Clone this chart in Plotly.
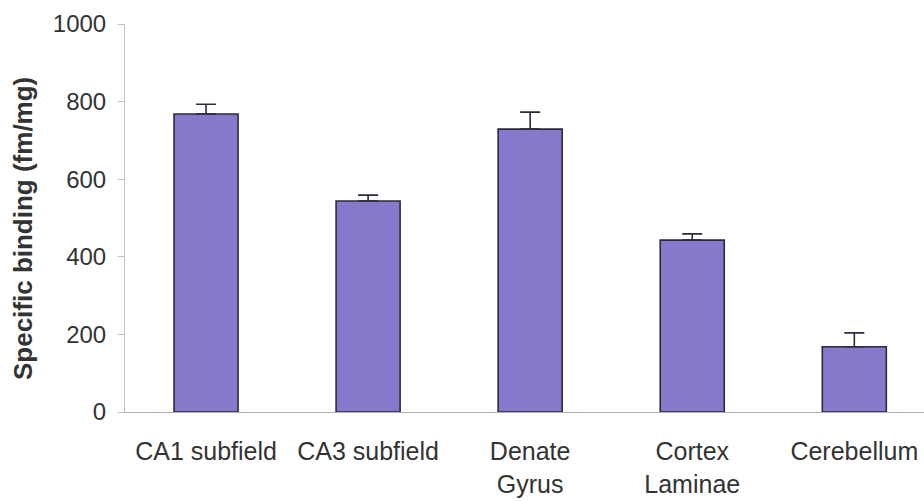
import plotly.graph_objects as go

categories = ["CA1 subfield", "CA3 subfield", "Denate<br>Gyrus", "Cortex<br>Laminae", "Cerebellum"]
values = [768, 544, 729, 443, 168]
errors = [25, 15, 44, 16, 36]
y_ticks = [0, 200, 400, 600, 800, 1000]
y_title = "Specific binding (fm/mg)"

fig = go.Figure()
fig.add_trace(go.Bar(
    x=list(range(len(categories))),
    y=values,
    width=0.395,
    marker=dict(color="#8479CB", line=dict(color="#2b2b3d", width=1.6)),
    error_y=dict(type="data", array=errors, symmetric=False, arrayminus=[0]*len(errors),
                 color="#2b2b3d", thickness=1.6, width=10),
))

fig.update_layout(
    width=924, height=501,
    margin=dict(l=125, r=0, t=24, b=89),
    paper_bgcolor="white", plot_bgcolor="white",
    showlegend=False,
    font=dict(family="Liberation Sans, Arial, sans-serif", color="#333333", size=24),
)
fig.update_xaxes(
    range=[-0.5, 4.43], automargin=False,
    tickmode="array", tickvals=list(range(len(categories))), ticktext=categories,
    showline=True, linecolor="#b0b0b0", linewidth=1,
    ticks="", showgrid=False, zeroline=False,
    ticklabelstandoff=17,
    tickfont=dict(size=25, color="#333333"),
)
fig.update_yaxes(
    range=[0, 1000], tickvals=y_ticks, automargin=False,
    showline=True, linecolor="#c0c0c0", linewidth=1,
    ticks="outside", ticklen=6, tickcolor="#c0c0c0",
    ticklabelstandoff=7,
    showgrid=False, zeroline=False,
    tickfont=dict(size=24, color="#333333"),
)
fig.add_annotation(
    text="<b>" + y_title + "</b>", textangle=-90,
    xref="paper", yref="paper", x=-0.1277, y=0.474,
    xanchor="center", yanchor="middle", showarrow=False,
    font=dict(size=26, color="#333333"),
)

fig.write_html(
    "out.html",
    config={"displayModeBar": False},
    post_script="document.body.style.margin='0';document.body.style.overflow='hidden';",
)
